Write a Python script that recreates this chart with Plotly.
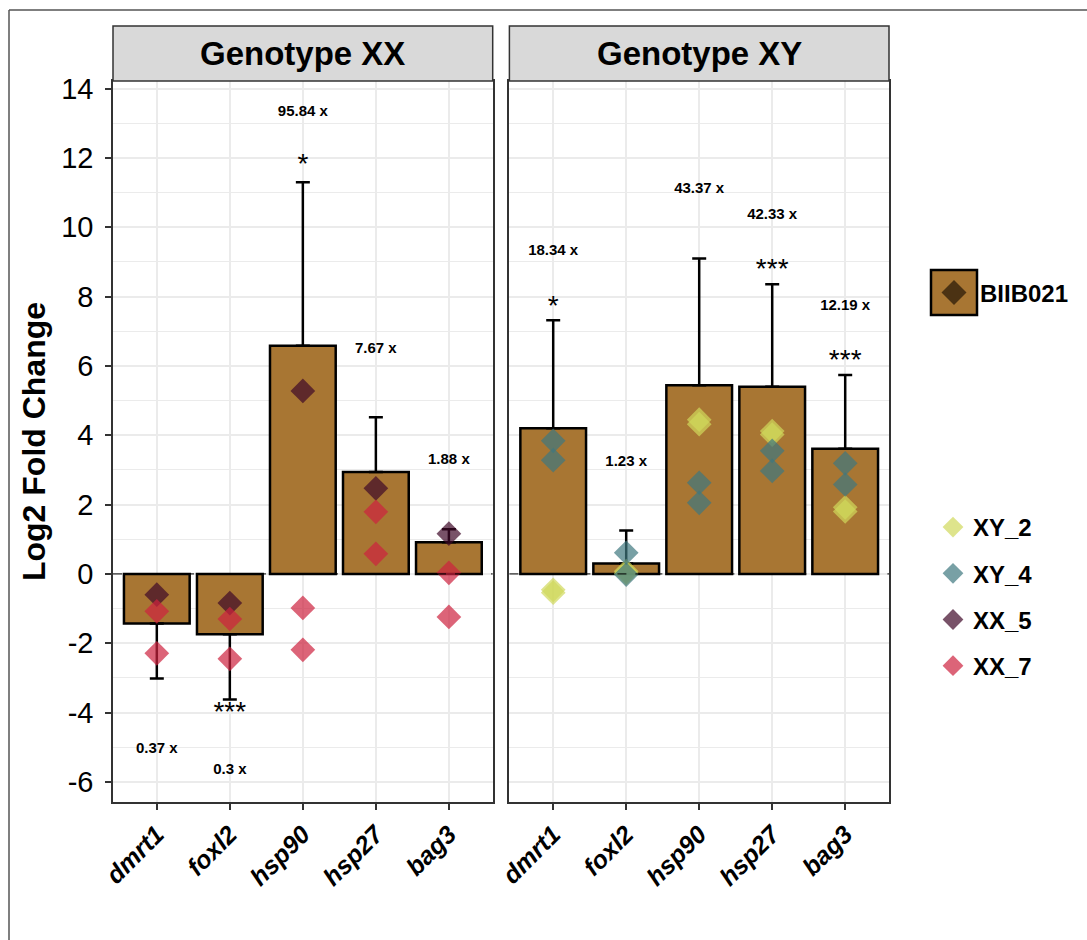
import plotly.graph_objects as go

# ---------------- data ----------------
genes = ["dmrt1", "foxl2", "hsp90", "hsp27", "bag3"]

# log2 fold change (bar heights) and error-bar ends
xx_bar = [-1.43, -1.74, 6.58, 2.94, 0.91]
xx_err_end = [-3.02, -3.62, 11.30, 4.52, 1.29]
xy_bar = [4.20, 0.30, 5.44, 5.40, 3.61]
xy_err_end = [7.32, 1.25, 9.10, 8.36, 5.74]

# fold-change labels
xx_fc_text = ["0.37 x", "0.3 x", "95.84 x", "7.67 x", "1.88 x"]
xx_fc_y = [-5.07, -5.67, 13.33, 6.49, 3.28]
xy_fc_text = ["18.34 x", "1.23 x", "43.37 x", "42.33 x", "12.19 x"]
xy_fc_y = [9.30, 3.23, 11.09, 10.36, 7.72]

# significance stars
xx_star_genes = ["foxl2", "hsp90"]
xx_star_text = ["***", "*"]
xx_star_y = [-4.05, 11.76]
xy_star_genes = ["dmrt1", "hsp27", "bag3"]
xy_star_text = ["*", "***", "***"]
xy_star_y = [7.66, 8.73, 6.11]

# individual samples
xx5_genes = ["dmrt1", "foxl2", "hsp90", "hsp27", "bag3"]
xx5_vals = [-0.60, -0.84, 5.28, 2.47, 1.16]
xx7_genes = ["dmrt1", "dmrt1", "foxl2", "foxl2", "hsp90", "hsp90", "hsp27", "hsp27", "bag3", "bag3"]
xx7_vals = [-1.08, -2.29, -1.30, -2.45, -0.98, -2.19, 1.79, 0.58, 0.03, -1.24]
xy2_genes = ["dmrt1", "dmrt1", "foxl2", "foxl2", "hsp90", "hsp90", "hsp27", "hsp27", "bag3", "bag3"]
xy2_vals = [-0.46, -0.54, 0.08, 0.02, 4.45, 4.32, 4.12, 4.02, 1.92, 1.80]
xy4_genes = ["dmrt1", "dmrt1", "foxl2", "foxl2", "hsp90", "hsp90", "hsp27", "hsp27", "bag3", "bag3"]
xy4_vals = [3.84, 3.28, 0.61, -0.02, 2.63, 2.05, 3.55, 2.97, 3.19, 2.58]

y_tick_vals = [-6, -4, -2, 0, 2, 4, 6, 8, 10, 12, 14]
y_tick_text = ["-6", "-4", "-2", "0", "2", "4", "6", "8", "10", "12", "14"]

# ---------------- style ----------------
FONT = "Liberation Sans, Arial, sans-serif"
BAR_COLOR = "#A87633"
COL = {"XY_2": "#D0D85B", "XY_4": "#3E777F", "XX_5": "#3E0828", "XX_7": "#CD223E"}
PT_OPACITY = 0.7
PT_SIZE = 19
GRID = "#EBEBEB"
FRAME = "#333333"

W, H = 1087, 940
ML, MR, MT, MB = 113, 198, 81, 138
PW, PH = W - ML - MR, H - MT - MB


def px_x(px):
    return (px - ML) / PW


def px_y(py):
    return (H - MB - py) / PH


fig = go.Figure()


def err_arrays(vals, ends):
    up = [max(e - v, 0) for v, e in zip(vals, ends)]
    dn = [max(v - e, 0) for v, e in zip(vals, ends)]
    return up, dn


for vals, ends, xa, ya in [(xx_bar, xx_err_end, "x", "y"), (xy_bar, xy_err_end, "x2", "y2")]:
    up, dn = err_arrays(vals, ends)
    fig.add_trace(go.Bar(
        x=genes, y=vals, xaxis=xa, yaxis=ya, name="BIIB021", showlegend=False,
        marker=dict(color=BAR_COLOR, line=dict(color="black", width=2.5)),
        error_y=dict(type="data", symmetric=False, array=up, arrayminus=dn,
                     color="black", thickness=2.5, width=7),
        hoverinfo="skip",
    ))

# points (legend order XY_2, XY_4, XX_5, XX_7)
for name, g, v, xa, ya in [
    ("XY_2", xy2_genes, xy2_vals, "x2", "y2"),
    ("XY_4", xy4_genes, xy4_vals, "x2", "y2"),
    ("XX_5", xx5_genes, xx5_vals, "x", "y"),
    ("XX_7", xx7_genes, xx7_vals, "x", "y"),
]:
    fig.add_trace(go.Scatter(
        x=g, y=v, xaxis=xa, yaxis=ya, mode="markers", name=name,
        legendgroup=name,
        marker=dict(symbol="diamond", size=PT_SIZE, color=COL[name],
                    opacity=PT_OPACITY, line=dict(width=0)),
    ))

# labels
for g, yv, t, xa, ya in [
    (genes, xx_fc_y, xx_fc_text, "x", "y"),
    (genes, xy_fc_y, xy_fc_text, "x2", "y2"),
]:
    fig.add_trace(go.Scatter(
        x=g, y=yv, text=t, mode="text", xaxis=xa, yaxis=ya, showlegend=False,
        textposition="middle center",
        textfont=dict(family=FONT, size=15, color="black", weight="bold"),
        hoverinfo="skip",
    ))
for g, yv, t, xa, ya in [
    (xx_star_genes, xx_star_y, xx_star_text, "x", "y"),
    (xy_star_genes, xy_star_y, xy_star_text, "x2", "y2"),
]:
    fig.add_trace(go.Scatter(
        x=g, y=yv, text=t, mode="text", xaxis=xa, yaxis=ya, showlegend=False,
        textposition="middle center",
        textfont=dict(family=FONT, size=28, color="black"),
        hoverinfo="skip",
    ))

x_common = dict(
    type="category", categoryorder="array", categoryarray=genes,
    range=[-0.6, 4.6], showgrid=True, gridcolor=GRID, gridwidth=1.5,
    showline=True, linecolor=FRAME, linewidth=1.5, mirror=True,
    ticks="outside", ticklen=6, tickwidth=1.5, tickcolor=FRAME,
    tickangle=-45,
    tickfont=dict(family=FONT, size=25, color="black", weight="bold", style="italic"),
    zeroline=False, fixedrange=True,
)
y_common = dict(
    range=[-6.58, 14.22], tickmode="array", tickvals=y_tick_vals, ticktext=y_tick_text,
    showgrid=True, gridcolor=GRID, gridwidth=1.5,
    minor=dict(dtick=1, tick0=0, showgrid=True, gridcolor=GRID, gridwidth=0.8),
    showline=True, linecolor=FRAME, linewidth=1.5, mirror=True,
    zeroline=False, fixedrange=True,
)

fig.update_layout(
    width=W, height=H,
    margin=dict(l=ML, r=MR, t=MT, b=MB, pad=0),
    paper_bgcolor="white", plot_bgcolor="white",
    bargap=0.1,
    font=dict(family=FONT, color="black"),
    xaxis=dict(domain=[0, px_x(492.7)], anchor="y", **x_common),
    xaxis2=dict(domain=[px_x(509.4), 1], anchor="y2", **x_common),
    yaxis=dict(domain=[0, 1], anchor="x", ticks="outside", ticklen=6, tickwidth=1.5,
               tickcolor=FRAME, ticklabelstandoff=6,
               tickfont=dict(family=FONT, size=29, color="black"),
               title=dict(text="Log2 Fold Change", standoff=6,
                          font=dict(family=FONT, size=32, color="black", weight="bold")),
               **y_common),
    yaxis2=dict(domain=[0, 1], anchor="x2", matches="y", showticklabels=False, ticks="",
                **y_common),
    legend=dict(
        x=px_x(933), xanchor="left", y=px_y(505), yanchor="top",
        font=dict(family=FONT, size=24, color="black", weight="bold"),
        traceorder="grouped", tracegroupgap=12, itemsizing="trace",
        bgcolor="rgba(0,0,0,0)", borderwidth=0,
    ),
    showlegend=True,
)

shapes = []
annotations = []
strip_top = 1 + 55 / PH
for xr, yr, label in [("x domain", "y domain", "Genotype XX"), ("x2 domain", "y2 domain", "Genotype XY")]:
    shapes.append(dict(type="rect", xref=xr, yref=yr, x0=0, x1=1, y0=1, y1=strip_top,
                       fillcolor="#D9D9D9", line=dict(color=FRAME, width=1.5), layer="above"))
    annotations.append(dict(xref=xr, yref=yr, x=0.5, y=(1 + strip_top) / 2, text=label,
                            showarrow=False, xanchor="center", yanchor="middle",
                            font=dict(family=FONT, size=33, color="black", weight="bold")))
# dashed zero lines (coincide with the bar outlines at y = 0)
for xr, yr in [("x domain", "y"), ("x2 domain", "y2")]:
    shapes.append(dict(type="line", xref=xr, yref=yr, x0=0, x1=1, y0=0, y1=0,
                       line=dict(color="black", width=1, dash="dash"), layer="above"))

# BIIB021 legend key
shapes.append(dict(type="rect", xref="paper", yref="paper",
                   x0=px_x(931), x1=px_x(977), y0=px_y(315), y1=px_y(270),
                   fillcolor=BAR_COLOR, line=dict(color="black", width=2.5), layer="above"))
cx, cy, r = 954, 292.5, 12.5
shapes.append(dict(type="path", xref="paper", yref="paper",
                   path=(f"M {px_x(cx - r):.5f},{px_y(cy):.5f} L {px_x(cx):.5f},{px_y(cy - r):.5f} "
                         f"L {px_x(cx + r):.5f},{px_y(cy):.5f} L {px_x(cx):.5f},{px_y(cy + r):.5f} Z"),
                   fillcolor="#4B3213", line=dict(width=0), layer="above"))
annotations.append(dict(xref="paper", yref="paper", x=px_x(978), y=px_y(293), text="BIIB021",
                        showarrow=False, xanchor="left", yanchor="middle",
                        font=dict(family=FONT, size=24, color="black", weight="bold")))

# outer frame (top and left edges)
shapes.append(dict(type="line", xref="paper", yref="paper", x0=px_x(9), x1=px_x(1087),
                   y0=px_y(10), y1=px_y(10), line=dict(color="#555555", width=1.5), layer="above"))
shapes.append(dict(type="line", xref="paper", yref="paper", x0=px_x(9), x1=px_x(9),
                   y0=px_y(10), y1=px_y(940), line=dict(color="#555555", width=1.5), layer="above"))

fig.update_layout(shapes=shapes, annotations=annotations)

fig.write_html("out.html")
